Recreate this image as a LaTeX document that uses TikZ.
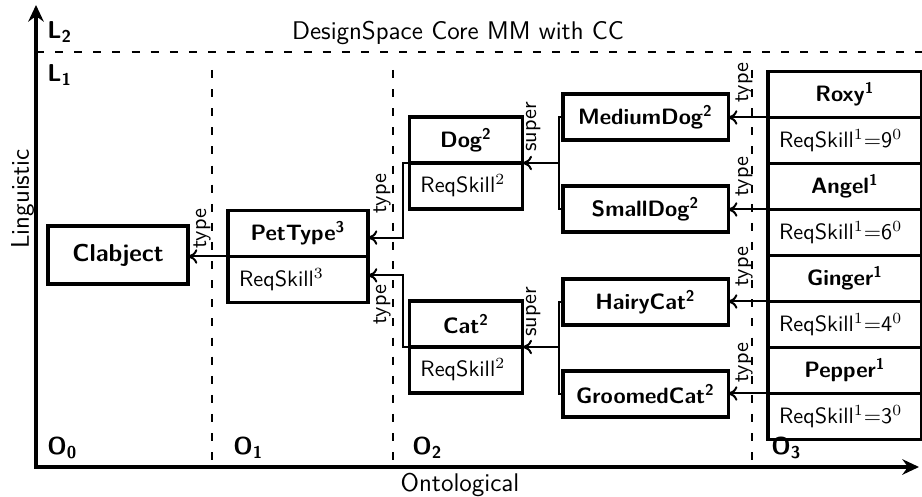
\documentclass[tikz,border=0pt]{standalone}
\usepackage{amsmath}
\usetikzlibrary{arrows.meta, positioning}

\begin{document}
\begin{tikzpicture}[x=0.45pt, y=-0.45pt, >={To[length=4.2pt,width=6.5pt]},
    every node/.style={font=\sffamily},
    box/.style={draw, line width=1.4pt, outer sep=0pt, minimum height=20.7pt},
    head/.style={box, minimum width=#1, font=\fontsize{10}{12}\selectfont\sffamily\bfseries},
    slot/.style={box, text width=#1, inner xsep=5pt, align=left, font=\fontsize{10}{12}\selectfont\sffamily},
    axis/.style={line width=1.4pt, {Stealth[length=7.5pt,width=7pt,inset=2.5pt]}-{Stealth[length=7.5pt,width=7pt,inset=2.5pt]}},
    divider/.style={line width=0.5pt, dash pattern=on 3.6pt off 5pt},
    conn/.style={->, line width=0.9pt},
    bracket/.style={line width=0.9pt},
    lvl/.style={font=\fontsize{11}{13}\selectfont\sffamily\bfseries, inner sep=0pt, anchor=base west},
    ttl/.style={font=\fontsize{11.5}{13}\selectfont\sffamily, inner sep=0pt, anchor=base},
    lbl/.style={font=\fontsize{10}{12}\selectfont\sffamily, rotate=90, anchor=south west, inner sep=0pt}]
  \useasboundingbox (0,0) rectangle (922,497);

  % Axes and level dividers
  \coordinate (origin) at (36,467);
  \coordinate (ytip) at (36,5);
  \coordinate (xtip) at (919,467);
  \draw[axis] (ytip) -- (origin) -- (xtip);
  \draw[divider] (36,52) -- (922,52);
  \foreach \x in {212,393,752}
    \draw[divider] (\x,70) -- (\x,467);

  % Level labels and axis titles
  \node[lvl] (l2) at (47,39) {L\textsubscript{2}};
  \node[lvl] (l1) at (47,82) {L\textsubscript{1}};
  \foreach \x/\i in {47/0,233/1,412/2,771/3}
    \node[lvl] (o\i) at (\x,455) {O\textsubscript{\i}};
  \node[ttl] (title) at (458,40) {DesignSpace Core MM with CC};
  \node[ttl, rotate=90] (ling) at (29,199) {Linguistic};
  \node[ttl] (onto) at (460,492) {Ontological};

  % O0 and O1
  \node[head=63pt, minimum height=26.1pt, font=\fontsize{11}{13}\selectfont\sffamily\bfseries] (clab) at (118,255) {Clabject};
  \node[head=63pt] (petH) at (298,233.5) {PetType\textsuperscript{3}};
  \node[slot=53pt, below=0pt of petH] (petS) {ReqSkill$^3$};

  % O2 types
  \node[head=51pt] (dogH) at (466,140) {Dog\textsuperscript{2}};
  \node[slot=41pt, below=0pt of dogH] (dogS) {ReqSkill$^2$};
  \node[head=51pt] (catH) at (466,324) {Cat\textsuperscript{2}};
  \node[slot=41pt, below=0pt of catH] (catS) {ReqSkill$^2$};

  % O2 subtypes
  \node[head=74.3pt] (medH) at (645.5,117) {MediumDog\textsuperscript{2}};
  \node[head=74.3pt] (smallH) at (645.5,209) {SmallDog\textsuperscript{2}};
  \node[head=74.3pt] (hairyH) at (645.5,302) {HairyCat\textsuperscript{2}};
  \node[head=74.3pt] (groomH) at (645.5,394) {GroomedCat\textsuperscript{2}};

  % O3 instances
  \node[head=69.3pt] (roxyH) at (845,94.5) {Roxy\textsuperscript{1}};
  \node[slot=59.3pt, below=0pt of roxyH] (roxyS) {ReqSkill$^1{=}$9$^0$};
  \node[head=69.3pt, below=0pt of roxyS] (angelH) {Angel\textsuperscript{1}};
  \node[slot=59.3pt, below=0pt of angelH] (angelS) {ReqSkill$^1{=}$6$^0$};
  \node[head=69.3pt, below=0pt of angelS] (gingerH) {Ginger\textsuperscript{1}};
  \node[slot=59.3pt, below=0pt of gingerH] (gingerS) {ReqSkill$^1{=}$4$^0$};
  \node[head=69.3pt, below=0pt of gingerS] (pepperH) {Pepper\textsuperscript{1}};
  \node[slot=59.3pt, below=0pt of pepperH] (pepperS) {ReqSkill$^1{=}$3$^0$};

  % type links
  \draw[conn] (petH.south west) -- (petH.south west -| clab.east);
  \draw[conn] (dogH.south west) -- ++(-6,0) |- ([yshift=8.5pt]petH.south east);
  \draw[conn] (catH.south west) -- ++(-6,0) |- ([yshift=-8.5pt]petS.north east);
  \draw[conn] (roxyH.south west) -- (roxyH.south west -| medH.east);
  \draw[conn] (angelH.south west) -- (angelH.south west -| smallH.east);
  \draw[conn] (gingerH.south west) -- (gingerH.south west -| hairyH.east);
  \draw[conn] (pepperH.south west) -- (pepperH.south west -| groomH.east);

  % super links
  \draw[bracket] (medH.west) -- ++(-4,0) |- (smallH.west);
  \draw[conn] ([xshift=-1.8pt]medH.west |- dogH.south east) -- (dogH.south east);
  \draw[bracket] (hairyH.west) -- ++(-4,0) |- (groomH.west);
  \draw[conn] ([xshift=-1.8pt]hairyH.west |- catH.south east) -- (catH.south east);

  % link labels
  \node[lbl] (tclab) at (211,249) {type};
  \node[lbl] (tdog) at (391,214) {type};
  \node[lbl] (tcat) at (391,325) {type};
  \node[lbl] (sdog) at (541,152) {super};
  \node[lbl] (scat) at (541,337) {super};
  \node[lbl] (troxy) at (753,103) {type};
  \node[lbl] (tangel) at (753,197) {type};
  \node[lbl] (tginger) at (753,287) {type};
  \node[lbl] (tpepper) at (753,383) {type};
\end{tikzpicture}
\end{document}
